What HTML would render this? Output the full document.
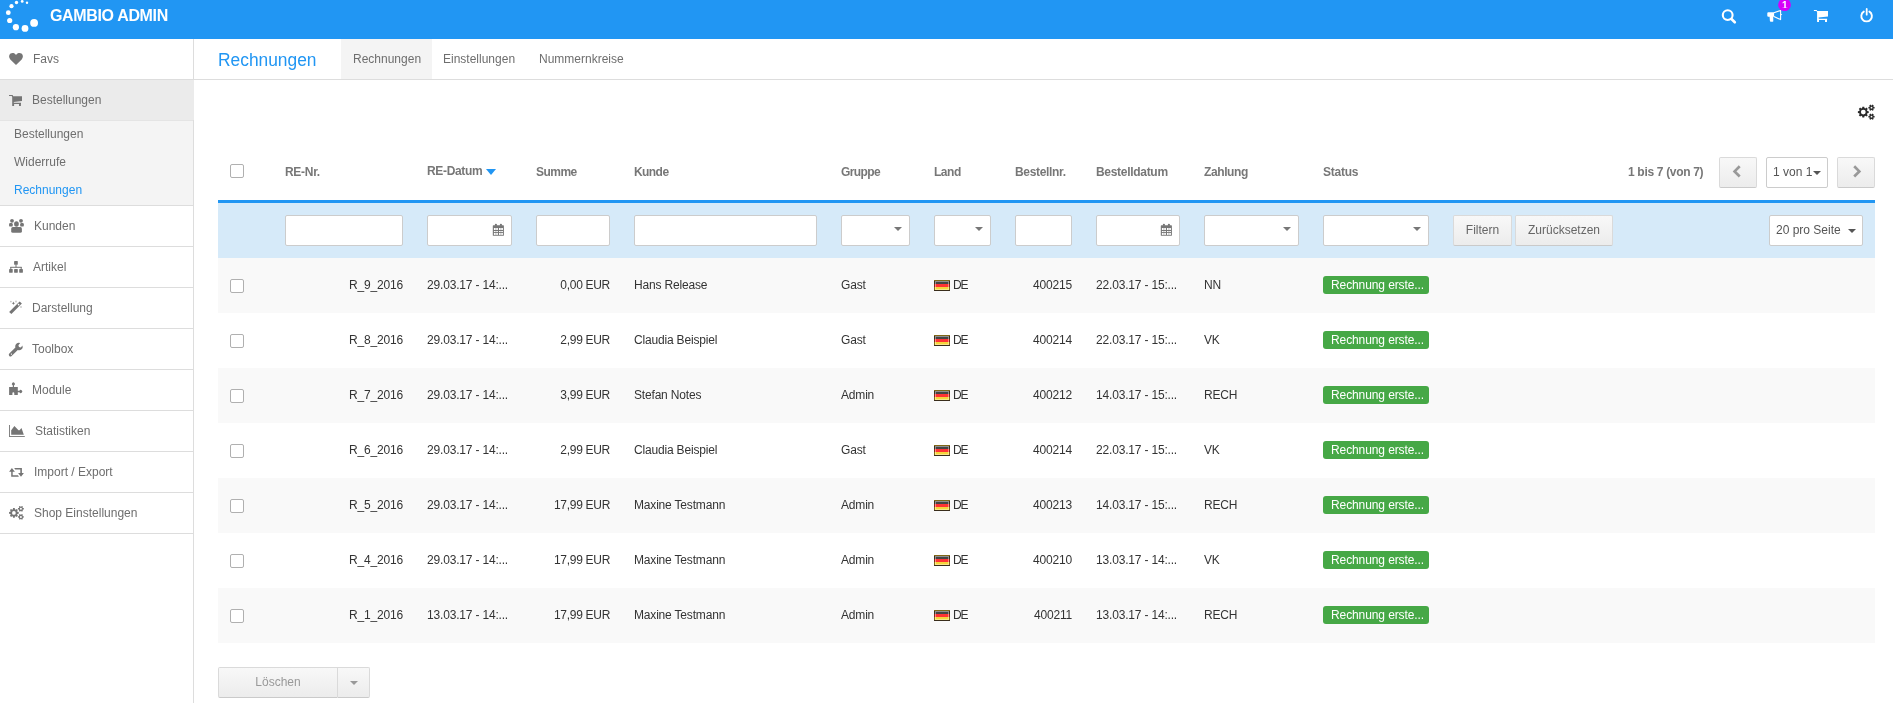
<!DOCTYPE html><html><head><meta charset="utf-8"><title>Rechnungen</title><style>
*{box-sizing:border-box;margin:0;padding:0}
html,body{width:1893px;height:703px;overflow:hidden;background:#fff}
body{font-family:"Liberation Sans",Arial,sans-serif;font-size:12px;color:#333;position:relative;will-change:transform}
.a{position:absolute;white-space:nowrap}
.ic{position:absolute;display:block;overflow:visible}
#top{position:absolute;left:0;top:0;width:1893px;height:39px;background:#2196f3}
#brand{position:absolute;left:50px;top:7px;color:#fff;font-weight:bold;font-size:16px;letter-spacing:-0.35px}
#side{position:absolute;left:0;top:39px;width:194px;height:664px;border-right:1px solid #ddd;background:#fff}
.si{position:absolute;left:0;width:193px;height:41px;border-bottom:1px solid #ddd;color:#6e6e6e}
.si .t{position:absolute;top:13px}
.sub{position:absolute;left:14px;color:#6e6e6e}
.th{position:absolute;top:165px;font-weight:bold;color:#777;letter-spacing:-0.5px}
.inp{position:absolute;top:215px;height:31px;background:#fff;border:1px solid #ccc;border-radius:2px}
.row{position:absolute;left:218px;width:1657px;height:55px}
.cell{position:absolute;top:20px;color:#333;letter-spacing:-0.18px}
.r{text-align:right}
.cb{position:absolute;width:14px;height:14px;border:1px solid #b0b0b0;border-radius:2px;background:#fff}
.badge{position:absolute;top:18px;left:1105px;width:106px;height:18px;background:#46a846;border-radius:3px;color:#fff;padding-left:8px;line-height:18px;letter-spacing:-0.1px}
.btn{position:absolute;background:linear-gradient(#f8f8f8,#ececec);border:1px solid #dadada;border-bottom-color:#cacaca;border-radius:2px;color:#666;text-align:center}
.car{position:absolute;width:0;height:0;border-left:4px solid transparent;border-right:4px solid transparent;border-top:4px solid #777}
</style></head><body>
<div id="top">
<svg class="ic" style="left:0;top:0;width:45px;height:39px" viewBox="0 0 45 39" fill="#fff"><circle cx="34.1" cy="22.9" r="3.9"/><circle cx="25.0" cy="28.4" r="3.4"/><circle cx="15.9" cy="27.2" r="3.1"/><circle cx="9.7" cy="20.5" r="2.6"/><circle cx="8.3" cy="12.7" r="2.4"/><circle cx="11.5" cy="6.2" r="2.1"/><circle cx="16.5" cy="2.5" r="1.7"/><circle cx="22.2" cy="1.4" r="1.4"/><circle cx="27.0" cy="2.8" r="1.2"/></svg>
<div id="brand" class="a">GAMBIO ADMIN</div>
<svg class="ic" style="left:0;top:0;width:1893px;height:39px" viewBox="0 0 1893 39"><circle cx="1727.7" cy="15.1" r="4.9" fill="none" stroke="#fff" stroke-width="2.1"/><path d="M1731.2 18.8 L1734.8 22.3" stroke="#fff" stroke-width="2.6" stroke-linecap="round"/><path fill="#fff" d="M1768.3 12.2 H1774.1 V16.8 H1773.2 L1773.3 20.8 Q1773.5 21.8 1772.6 21.8 H1770.8 Q1770 21.8 1769.9 21 L1769.6 16.8 H1768.3 Q1767.3 16.8 1767.3 15.8 V13.2 Q1767.3 12.2 1768.3 12.2 Z"/><path fill="none" stroke="#fff" stroke-width="1.1" stroke-linejoin="round" d="M1773.9 12.8 L1780.6 10.4 V19.6 L1773.9 16.4"/><path fill="#fff" d="M1780.9 13.7 L1782.3 14.5 L1780.9 15.3 Z"/><path fill="#fff" d="M1813.9 10.1 H1816.7 L1817.2 11.1 H1828 V16.4 L1818.6 17.5 L1818.8 18.8 H1827.1 V20 H1819 V22 H1817.1 V12.2 L1816.5 11.1 H1813.9 Z"/><rect fill="#fff" x="1825" y="19.8" width="2" height="2.2"/><path fill="none" stroke="#fff" stroke-width="1.9" stroke-linecap="round" d="M1863.8 11.6 A5.3 5.3 0 1 0 1869.4 11.6"/><path stroke="#fff" stroke-width="1.8" stroke-linecap="round" d="M1866.7 9.0 V14.7"/><circle cx="1784.5" cy="4.7" r="6.4" fill="#d500f9"/></svg>
<div class="a" style="left:1781px;top:0;width:8px;height:7.7px;overflow:hidden"><div class="a" style="left:1px;top:0px;color:#fff;font-weight:bold;font-size:10px">1</div></div>
</div>
<div id="side">
<div class="si" style="top:0"><span class="t" style="left:33px">Favs</span></div>
<div class="si" style="top:41px;height:40px;width:194px;background:#ebebeb;border-bottom:none"><span class="t" style="left:32px">Bestellungen</span></div>
<div style="position:absolute;left:0;top:81px;width:193px;height:86px;background:#f4f4f4;border-top:1px solid #e4e4e4;border-bottom:1px solid #ddd"></div>
<span class="sub a" style="top:88px">Bestellungen</span>
<span class="sub a" style="top:116px">Widerrufe</span>
<span class="sub a" style="top:144px;color:#2196f3">Rechnungen</span>
<div class="si" style="top:167px"><span class="t" style="left:34px">Kunden</span></div>
<div class="si" style="top:208px"><span class="t" style="left:33px">Artikel</span></div>
<div class="si" style="top:249px"><span class="t" style="left:32px">Darstellung</span></div>
<div class="si" style="top:290px"><span class="t" style="left:32px">Toolbox</span></div>
<div class="si" style="top:331px"><span class="t" style="left:32px">Module</span></div>
<div class="si" style="top:372px"><span class="t" style="left:35px">Statistiken</span></div>
<div class="si" style="top:413px"><span class="t" style="left:34px">Import / Export</span></div>
<div class="si" style="top:454px"><span class="t" style="left:34px">Shop Einstellungen</span></div>
</div>
<svg class="ic" style="left:4px;top:48px;width:24px;height:24px" viewBox="0 0 24 24" fill="#757575" ><path d="M12 17 L6.3 11.4 C4.6 9.7 4.7 7 6.5 5.6 C8 4.5 10.3 4.9 11.4 6.2 L12 6.9 L12.6 6.2 C13.7 4.9 16 4.5 17.5 5.6 C19.3 7 19.4 9.7 17.7 11.4 Z"/></svg>
<svg class="ic" style="left:4px;top:88px;width:24px;height:24px" viewBox="0 0 24 24" fill="#757575" ><path d="M5 6.9 H8.6 L9.2 8.2 H18 V12.9 L9.7 14 L9.9 14.8 H17 V16 H10.1 V18 H8.2 V9 L7.7 7.9 H5 Z"/><rect x="15" y="15.8" width="1.9" height="2.2"/></svg>
<svg class="ic" style="left:4px;top:214px;width:24px;height:24px" viewBox="0 0 24 24" fill="#757575" ><circle cx="8" cy="6.8" r="1.9"/><circle cx="17" cy="6.8" r="1.9"/><ellipse cx="12.45" cy="9.9" rx="2.35" ry="2.75"/><rect x="5.1" y="9" width="3.6" height="3.6" rx="1.2"/><rect x="16.2" y="9" width="3.6" height="3.6" rx="1.2"/><rect x="7.2" y="13.1" width="10.7" height="5.7" rx="1.6"/></svg>
<svg class="ic" style="left:4px;top:255px;width:24px;height:24px" viewBox="0 0 24 24" fill="#757575" ><rect x="10.1" y="6.1" width="3.7" height="3.6" rx="0.4"/><rect x="11.5" y="9.5" width="1" height="3"/><rect x="6.3" y="11.8" width="11.4" height="1"/><rect x="6.3" y="12" width="1" height="2.2"/><rect x="16.7" y="12" width="1" height="2.2"/><rect x="5.1" y="14" width="3.6" height="3.7" rx="0.4"/><rect x="10.1" y="14" width="3.7" height="3.7" rx="0.4"/><rect x="15.2" y="14" width="3.7" height="3.7" rx="0.4"/></svg>
<svg class="ic" style="left:4px;top:296px;width:24px;height:24px" viewBox="0 0 24 24" fill="#757575" ><path d="M5.1 16 L15.6 5.4 L17.9 7.6 L7.4 18.1 Z"/><path fill="#fff" d="M15.66 8.81 L14.39 7.54 L13.54 8.39 L14.81 9.66 Z"/><path d="M9.4 5.6 L9.9 6.8 L11.1 7.3 L9.9 7.8 L9.4 9 L8.9 7.8 L7.7 7.3 L8.9 6.8 Z"/><circle cx="6.9" cy="5.6" r="0.9" opacity="0.4"/><circle cx="12" cy="5.5" r="0.9" opacity="0.4"/><circle cx="17" cy="11" r="0.9" opacity="0.4"/></svg>
<svg class="ic" style="left:4px;top:337px;width:24px;height:24px" viewBox="0 0 24 24" fill="#757575" ><path fill-rule="evenodd" d="M11.2 9.8 A3.6 3.6 0 0 1 16.2 6.1 L14.4 8.2 L15 10 L16.8 10.5 L18.5 8.5 A3.6 3.6 0 0 1 13.8 13 L7.6 18.9 A1.5 1.5 0 0 1 5.3 16.6 L11.4 10.6 Z M7.4 16.5 A0.6 0.6 0 1 0 7.41 16.5 Z"/></svg>
<svg class="ic" style="left:4px;top:378px;width:24px;height:24px" viewBox="0 0 24 24" fill="#757575" ><path d="M5.1 9 H8.8 V7.4 A1.5 1.5 0 1 1 10 7.4 V9 H13.8 V12.8 H15.4 A1.5 1.5 0 1 1 15.4 14.2 H13.8 V16.9 H10.3 V15.3 A0.95 0.95 0 0 0 8.4 15.3 V16.9 H5.1 Z"/></svg>
<svg class="ic" style="left:4px;top:419px;width:24px;height:24px" viewBox="0 0 24 24" fill="#757575" ><rect x="5.1" y="6" width="0.9" height="11.9"/><rect x="5.1" y="17" width="15.7" height="0.9"/><path d="M7.2 15.7 V11.2 L10.4 7 L14.5 11.2 L15.5 11.2 L17.5 9 L19.8 15.7 Z"/></svg>
<svg class="ic" style="left:4px;top:460px;width:24px;height:24px" viewBox="0 0 24 24" fill="#757575" ><path d="M5.1 11.8 L7.9 8 L10.9 11.8 H8.7 V15.3 H14 L14.9 16.8 H7.2 V11.8 Z"/><path d="M10.2 8.1 H17.9 V13 H19.9 L17 16.8 L14.1 13 H16.3 V9.6 H11.2 Z"/></svg>
<svg class="ic" style="left:4px;top:501px;width:24px;height:24px" viewBox="0 0 24 24" fill="#757575" ><path fill-rule="evenodd" d="M13.46 10.87 L14.73 11.06 L14.73 12.74 L13.46 12.93 L13.14 13.69 L13.91 14.72 L12.72 15.91 L11.69 15.14 L10.93 15.46 L10.74 16.73 L9.06 16.73 L8.87 15.46 L8.11 15.14 L7.08 15.91 L5.89 14.72 L6.66 13.69 L6.34 12.93 L5.07 12.74 L5.07 11.06 L6.34 10.87 L6.66 10.11 L5.89 9.08 L7.08 7.89 L8.11 8.66 L8.87 8.34 L9.06 7.07 L10.74 7.07 L10.93 8.34 L11.69 8.66 L12.72 7.89 L13.91 9.08 L13.14 10.11 Z M11.75 11.90 A1.85 1.85 0 1 0 8.05 11.90 A1.85 1.85 0 1 0 11.75 11.90 Z"/><path fill-rule="evenodd" d="M18.85 7.03 L19.82 7.11 L19.82 8.49 L18.85 8.57 L18.54 9.11 L18.95 9.99 L17.77 10.67 L17.21 9.88 L16.59 9.88 L16.03 10.67 L14.85 9.99 L15.26 9.11 L14.95 8.57 L13.98 8.49 L13.98 7.11 L14.95 7.03 L15.26 6.49 L14.85 5.61 L16.03 4.93 L16.59 5.72 L17.21 5.72 L17.77 4.93 L18.95 5.61 L18.54 6.49 Z M17.90 7.80 A1.0 1.0 0 1 0 15.90 7.80 A1.0 1.0 0 1 0 17.90 7.80 Z"/><path fill-rule="evenodd" d="M18.85 15.13 L19.82 15.21 L19.82 16.59 L18.85 16.67 L18.54 17.21 L18.95 18.09 L17.77 18.77 L17.21 17.98 L16.59 17.98 L16.03 18.77 L14.85 18.09 L15.26 17.21 L14.95 16.67 L13.98 16.59 L13.98 15.21 L14.95 15.13 L15.26 14.59 L14.85 13.71 L16.03 13.03 L16.59 13.82 L17.21 13.82 L17.77 13.03 L18.95 13.71 L18.54 14.59 Z M17.90 15.90 A1.0 1.0 0 1 0 15.90 15.90 A1.0 1.0 0 1 0 17.90 15.90 Z"/></svg>
<div class="a" style="left:194px;top:79px;width:1699px;height:1px;background:#ddd"></div>
<div class="a" style="left:218px;top:49.5px;font-size:18px;color:#2196f3;transform:scaleX(0.965);transform-origin:0 0">Rechnungen</div>
<div class="a" style="left:341px;top:39px;width:91px;height:40px;background:#f4f4f4"></div>
<div class="a" style="left:353px;top:52px;color:#6e6e6e">Rechnungen</div>
<div class="a" style="left:443px;top:52px;color:#6e6e6e">Einstellungen</div>
<div class="a" style="left:539px;top:52px;color:#6e6e6e">Nummernkreise</div>
<svg class="ic" style="left:1852px;top:100px;width:28px;height:24px" viewBox="1852 100 28 24" fill="#2a2a2a"><path fill-rule="evenodd" d="M1867.34 110.94 L1868.72 111.15 L1868.72 113.05 L1867.34 113.26 L1866.98 114.13 L1867.80 115.26 L1866.46 116.60 L1865.33 115.78 L1864.46 116.14 L1864.25 117.52 L1862.35 117.52 L1862.14 116.14 L1861.27 115.78 L1860.14 116.60 L1858.80 115.26 L1859.62 114.13 L1859.26 113.26 L1857.88 113.05 L1857.88 111.15 L1859.26 110.94 L1859.62 110.07 L1858.80 108.94 L1860.14 107.60 L1861.27 108.42 L1862.14 108.06 L1862.35 106.68 L1864.25 106.68 L1864.46 108.06 L1865.33 108.42 L1866.46 107.60 L1867.80 108.94 L1866.98 110.07 Z M1865.70 112.10 A2.4 2.4 0 1 0 1860.90 112.10 A2.4 2.4 0 1 0 1865.70 112.10 Z"/><path fill-rule="evenodd" d="M1873.52 106.83 L1874.60 106.90 L1874.60 108.50 L1873.52 108.57 L1873.27 109.01 L1873.74 109.99 L1872.36 110.78 L1871.75 109.89 L1871.25 109.89 L1870.64 110.78 L1869.26 109.99 L1869.73 109.01 L1869.48 108.57 L1868.40 108.50 L1868.40 106.90 L1869.48 106.83 L1869.73 106.39 L1869.26 105.41 L1870.64 104.62 L1871.25 105.51 L1871.75 105.51 L1872.36 104.62 L1873.74 105.41 L1873.27 106.39 Z M1872.40 107.70 A0.9 0.9 0 1 0 1870.60 107.70 A0.9 0.9 0 1 0 1872.40 107.70 Z"/><path fill-rule="evenodd" d="M1873.52 115.83 L1874.60 115.90 L1874.60 117.50 L1873.52 117.57 L1873.27 118.01 L1873.74 118.99 L1872.36 119.78 L1871.75 118.89 L1871.25 118.89 L1870.64 119.78 L1869.26 118.99 L1869.73 118.01 L1869.48 117.57 L1868.40 117.50 L1868.40 115.90 L1869.48 115.83 L1869.73 115.39 L1869.26 114.41 L1870.64 113.62 L1871.25 114.51 L1871.75 114.51 L1872.36 113.62 L1873.74 114.41 L1873.27 115.39 Z M1872.40 116.70 A0.9 0.9 0 1 0 1870.60 116.70 A0.9 0.9 0 1 0 1872.40 116.70 Z"/></svg>
<div class="cb" style="left:230px;top:164px"></div>
<div class="th a" style="left:285px;letter-spacing:-0.3px">RE-Nr.</div>
<div class="th a" style="left:427px;letter-spacing:-0.34px;top:164px">RE-Datum</div>
<div class="th a" style="left:536px;letter-spacing:-0.53px">Summe</div>
<div class="th a" style="left:634px;letter-spacing:-0.57px">Kunde</div>
<div class="th a" style="left:841px;letter-spacing:-0.58px">Gruppe</div>
<div class="th a" style="left:934px;letter-spacing:-0.47px">Land</div>
<div class="th a" style="left:1015px;letter-spacing:-0.34px">Bestellnr.</div>
<div class="th a" style="left:1096px;letter-spacing:-0.3px">Bestelldatum</div>
<div class="th a" style="left:1204px;letter-spacing:-0.4px">Zahlung</div>
<div class="th a" style="left:1323px;letter-spacing:-0.26px">Status</div>
<div class="car" style="left:486px;top:169px;border-top-color:#2196f3;border-left-width:5px;border-right-width:5px;border-top-width:6px"></div>
<div class="th a" style="left:1628px;letter-spacing:-0.32px">1 bis 7 (von 7)</div>
<div class="btn" style="left:1719px;top:157px;width:38px;height:31px"></div>
<svg class="ic" style="left:0;top:0;width:1px;height:1px" viewBox="0 0 1 1"><path d="M1739.7 166.3 L1734.6 171.4 L1739.7 176.5" fill="none" stroke="#999" stroke-width="2.7"/></svg>
<div class="inp" style="left:1766px;top:157px;width:62px;height:31px"><span class="a" style="left:6px;top:7px;color:#555">1 von 1</span></div>
<div class="car" style="left:1813px;top:171px;border-top-color:#555"></div>
<div class="btn" style="left:1837px;top:157px;width:38px;height:31px"></div>
<svg class="ic" style="left:0;top:0;width:1px;height:1px" viewBox="0 0 1 1"><path d="M1854.2 166.3 L1859.3 171.4 L1854.2 176.5" fill="none" stroke="#999" stroke-width="2.7"/></svg>
<div class="a" style="left:218px;top:200px;width:1657px;height:58px;background:#d6eaf9;border-top:3px solid #2196f3"></div>
<div class="inp" style="left:285px;width:118px"></div>
<div class="inp" style="left:427px;width:85px"></div>
<svg class="ic" style="left:492px;top:223px;width:13px;height:14px" viewBox="0 0 13 14" fill="#777"><rect x="0.8" y="2.3" width="11.1" height="10.5" rx="0.6"/><ellipse cx="3.9" cy="1.9" rx="1.1" ry="1.1"/><ellipse cx="8.9" cy="1.9" rx="1.1" ry="1.1"/><g fill="#fff"><rect x="1.9" y="5" width="1.8" height="2"/><rect x="4.2" y="5" width="1.7" height="2"/><rect x="7" y="5" width="1.7" height="2"/><rect x="9.2" y="5" width="1.7" height="2"/><rect x="1.9" y="8" width="1.8" height="1.1"/><rect x="4.2" y="8" width="1.7" height="1.1"/><rect x="7" y="8" width="1.7" height="1.1"/><rect x="9.2" y="8" width="1.7" height="1.1"/><rect x="1.9" y="10" width="1.8" height="1.9"/><rect x="4.2" y="10" width="1.7" height="1.9"/><rect x="7" y="10" width="1.7" height="1.9"/><rect x="9.2" y="10" width="1.7" height="1.9"/></g></svg>
<div class="inp" style="left:536px;width:74px"></div>
<div class="inp" style="left:634px;width:183px"></div>
<div class="inp" style="left:841px;width:69px"></div>
<div class="car" style="left:894px;top:227px"></div>
<div class="inp" style="left:934px;width:57px"></div>
<div class="car" style="left:975px;top:227px"></div>
<div class="inp" style="left:1015px;width:57px"></div>
<div class="inp" style="left:1096px;width:84px"></div>
<svg class="ic" style="left:1160px;top:223px;width:13px;height:14px" viewBox="0 0 13 14" fill="#777"><rect x="0.8" y="2.3" width="11.1" height="10.5" rx="0.6"/><ellipse cx="3.9" cy="1.9" rx="1.1" ry="1.1"/><ellipse cx="8.9" cy="1.9" rx="1.1" ry="1.1"/><g fill="#fff"><rect x="1.9" y="5" width="1.8" height="2"/><rect x="4.2" y="5" width="1.7" height="2"/><rect x="7" y="5" width="1.7" height="2"/><rect x="9.2" y="5" width="1.7" height="2"/><rect x="1.9" y="8" width="1.8" height="1.1"/><rect x="4.2" y="8" width="1.7" height="1.1"/><rect x="7" y="8" width="1.7" height="1.1"/><rect x="9.2" y="8" width="1.7" height="1.1"/><rect x="1.9" y="10" width="1.8" height="1.9"/><rect x="4.2" y="10" width="1.7" height="1.9"/><rect x="7" y="10" width="1.7" height="1.9"/><rect x="9.2" y="10" width="1.7" height="1.9"/></g></svg>
<div class="inp" style="left:1204px;width:95px"></div>
<div class="car" style="left:1283px;top:227px"></div>
<div class="inp" style="left:1323px;width:106px"></div>
<div class="car" style="left:1413px;top:227px"></div>
<div class="btn" style="left:1453px;top:215px;width:59px;height:31px;line-height:29px">Filtern</div>
<div class="btn" style="left:1515px;top:215px;width:98px;height:31px;line-height:29px">Zurücksetzen</div>
<div class="inp" style="left:1769px;width:94px"><span class="a" style="left:6px;top:7px;color:#555">20 pro Seite</span></div>
<div class="car" style="left:1848px;top:229px;border-top-color:#555"></div>
<div class="row" style="top:258px;background:#f9f9f9"><div class="cb" style="left:12px;top:21px"></div><div class="cell a r" style="right:1472px">R_9_2016</div><div class="cell a" style="left:209px">29.03.17 - 14:...</div><div class="cell a r" style="right:1265px;letter-spacing:-0.3px">0,00 EUR</div><div class="cell a" style="left:416px">Hans Release</div><div class="cell a" style="left:623px">Gast</div><div class="a" style="left:716px;top:22px;width:16px;height:11px;border:1px solid rgba(50,30,0,0.6);box-shadow:inset 0 0 0 1px rgba(255,255,255,0.4);background:linear-gradient(#444 0 30%,#f33 30% 64%,#f5d43a 64%)"></div><div class="cell a" style="left:735px;letter-spacing:-1.2px">DE</div><div class="cell a r" style="right:803px">400215</div><div class="cell a" style="left:878px">22.03.17 - 15:...</div><div class="cell a" style="left:986px">NN</div><div class="badge a">Rechnung erste...</div></div>
<div class="row" style="top:313px;background:#fff"><div class="cb" style="left:12px;top:21px"></div><div class="cell a r" style="right:1472px">R_8_2016</div><div class="cell a" style="left:209px">29.03.17 - 14:...</div><div class="cell a r" style="right:1265px;letter-spacing:-0.3px">2,99 EUR</div><div class="cell a" style="left:416px">Claudia Beispiel</div><div class="cell a" style="left:623px">Gast</div><div class="a" style="left:716px;top:22px;width:16px;height:11px;border:1px solid rgba(50,30,0,0.6);box-shadow:inset 0 0 0 1px rgba(255,255,255,0.4);background:linear-gradient(#444 0 30%,#f33 30% 64%,#f5d43a 64%)"></div><div class="cell a" style="left:735px;letter-spacing:-1.2px">DE</div><div class="cell a r" style="right:803px">400214</div><div class="cell a" style="left:878px">22.03.17 - 15:...</div><div class="cell a" style="left:986px">VK</div><div class="badge a">Rechnung erste...</div></div>
<div class="row" style="top:368px;background:#f9f9f9"><div class="cb" style="left:12px;top:21px"></div><div class="cell a r" style="right:1472px">R_7_2016</div><div class="cell a" style="left:209px">29.03.17 - 14:...</div><div class="cell a r" style="right:1265px;letter-spacing:-0.3px">3,99 EUR</div><div class="cell a" style="left:416px">Stefan Notes</div><div class="cell a" style="left:623px">Admin</div><div class="a" style="left:716px;top:22px;width:16px;height:11px;border:1px solid rgba(50,30,0,0.6);box-shadow:inset 0 0 0 1px rgba(255,255,255,0.4);background:linear-gradient(#444 0 30%,#f33 30% 64%,#f5d43a 64%)"></div><div class="cell a" style="left:735px;letter-spacing:-1.2px">DE</div><div class="cell a r" style="right:803px">400212</div><div class="cell a" style="left:878px">14.03.17 - 15:...</div><div class="cell a" style="left:986px">RECH</div><div class="badge a">Rechnung erste...</div></div>
<div class="row" style="top:423px;background:#fff"><div class="cb" style="left:12px;top:21px"></div><div class="cell a r" style="right:1472px">R_6_2016</div><div class="cell a" style="left:209px">29.03.17 - 14:...</div><div class="cell a r" style="right:1265px;letter-spacing:-0.3px">2,99 EUR</div><div class="cell a" style="left:416px">Claudia Beispiel</div><div class="cell a" style="left:623px">Gast</div><div class="a" style="left:716px;top:22px;width:16px;height:11px;border:1px solid rgba(50,30,0,0.6);box-shadow:inset 0 0 0 1px rgba(255,255,255,0.4);background:linear-gradient(#444 0 30%,#f33 30% 64%,#f5d43a 64%)"></div><div class="cell a" style="left:735px;letter-spacing:-1.2px">DE</div><div class="cell a r" style="right:803px">400214</div><div class="cell a" style="left:878px">22.03.17 - 15:...</div><div class="cell a" style="left:986px">VK</div><div class="badge a">Rechnung erste...</div></div>
<div class="row" style="top:478px;background:#f9f9f9"><div class="cb" style="left:12px;top:21px"></div><div class="cell a r" style="right:1472px">R_5_2016</div><div class="cell a" style="left:209px">29.03.17 - 14:...</div><div class="cell a r" style="right:1265px;letter-spacing:-0.3px">17,99 EUR</div><div class="cell a" style="left:416px">Maxine Testmann</div><div class="cell a" style="left:623px">Admin</div><div class="a" style="left:716px;top:22px;width:16px;height:11px;border:1px solid rgba(50,30,0,0.6);box-shadow:inset 0 0 0 1px rgba(255,255,255,0.4);background:linear-gradient(#444 0 30%,#f33 30% 64%,#f5d43a 64%)"></div><div class="cell a" style="left:735px;letter-spacing:-1.2px">DE</div><div class="cell a r" style="right:803px">400213</div><div class="cell a" style="left:878px">14.03.17 - 15:...</div><div class="cell a" style="left:986px">RECH</div><div class="badge a">Rechnung erste...</div></div>
<div class="row" style="top:533px;background:#fff"><div class="cb" style="left:12px;top:21px"></div><div class="cell a r" style="right:1472px">R_4_2016</div><div class="cell a" style="left:209px">29.03.17 - 14:...</div><div class="cell a r" style="right:1265px;letter-spacing:-0.3px">17,99 EUR</div><div class="cell a" style="left:416px">Maxine Testmann</div><div class="cell a" style="left:623px">Admin</div><div class="a" style="left:716px;top:22px;width:16px;height:11px;border:1px solid rgba(50,30,0,0.6);box-shadow:inset 0 0 0 1px rgba(255,255,255,0.4);background:linear-gradient(#444 0 30%,#f33 30% 64%,#f5d43a 64%)"></div><div class="cell a" style="left:735px;letter-spacing:-1.2px">DE</div><div class="cell a r" style="right:803px">400210</div><div class="cell a" style="left:878px">13.03.17 - 14:...</div><div class="cell a" style="left:986px">VK</div><div class="badge a">Rechnung erste...</div></div>
<div class="row" style="top:588px;background:#f9f9f9"><div class="cb" style="left:12px;top:21px"></div><div class="cell a r" style="right:1472px">R_1_2016</div><div class="cell a" style="left:209px">13.03.17 - 14:...</div><div class="cell a r" style="right:1265px;letter-spacing:-0.3px">17,99 EUR</div><div class="cell a" style="left:416px">Maxine Testmann</div><div class="cell a" style="left:623px">Admin</div><div class="a" style="left:716px;top:22px;width:16px;height:11px;border:1px solid rgba(50,30,0,0.6);box-shadow:inset 0 0 0 1px rgba(255,255,255,0.4);background:linear-gradient(#444 0 30%,#f33 30% 64%,#f5d43a 64%)"></div><div class="cell a" style="left:735px;letter-spacing:-1.2px">DE</div><div class="cell a r" style="right:803px">400211</div><div class="cell a" style="left:878px">13.03.17 - 14:...</div><div class="cell a" style="left:986px">RECH</div><div class="badge a">Rechnung erste...</div></div>
<div class="btn" style="left:218px;top:667px;width:120px;height:31px;line-height:29px;color:#999;border-radius:2px 0 0 2px">Löschen</div>
<div class="btn" style="left:338px;top:667px;width:32px;height:31px;border-left:none;border-radius:0 2px 2px 0"></div>
<div class="car" style="left:350px;top:681px;border-top-color:#999"></div>
</body></html>
